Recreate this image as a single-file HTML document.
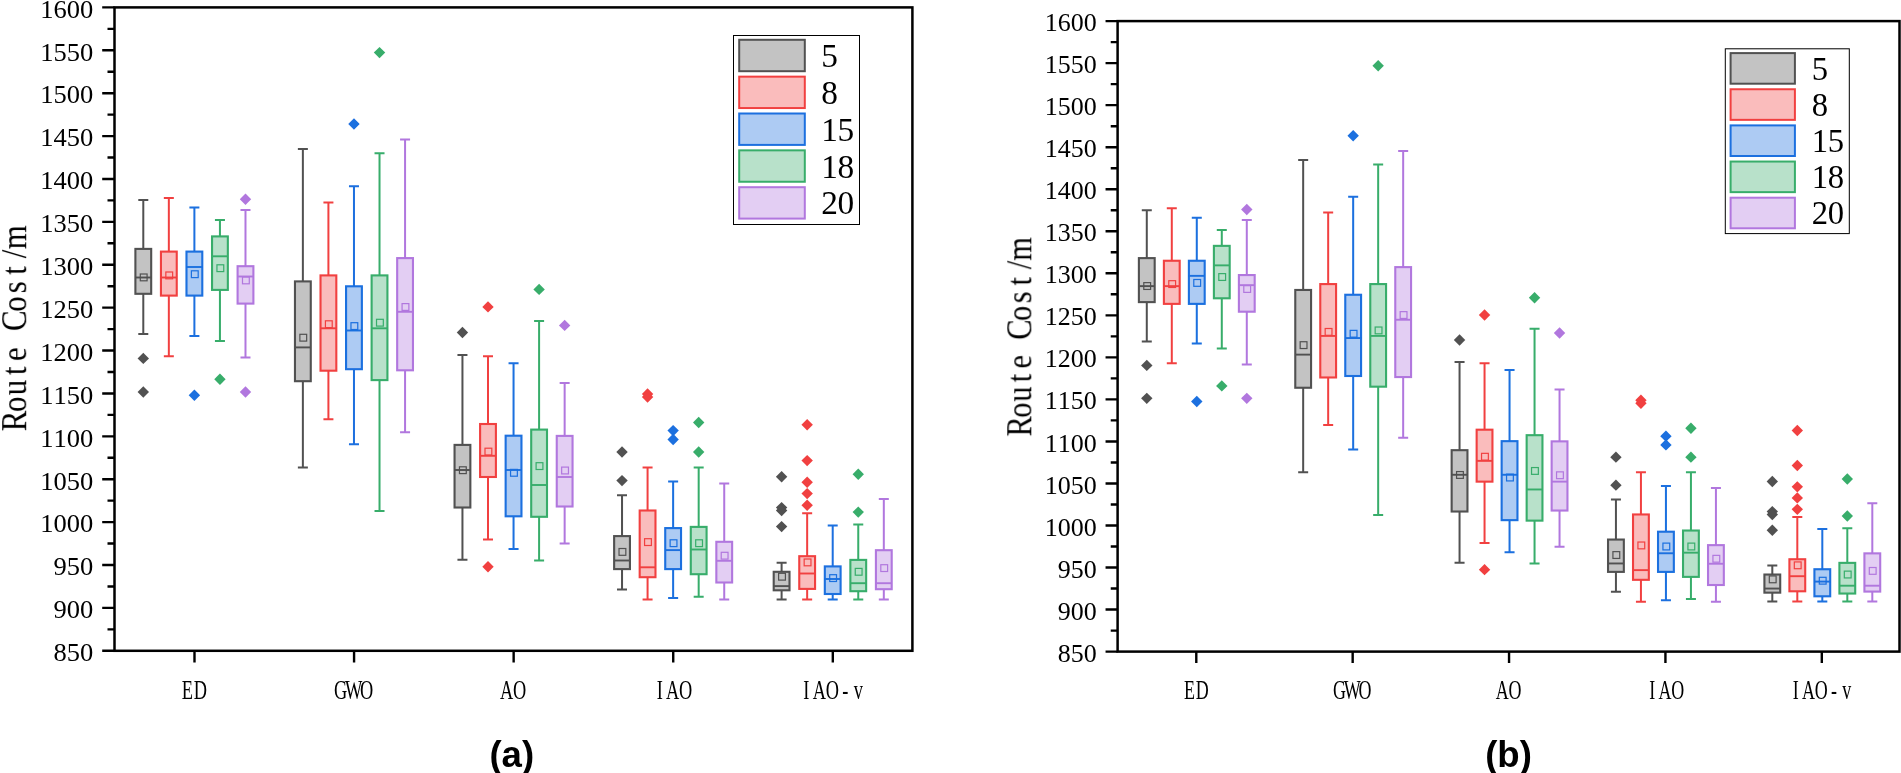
<!DOCTYPE html>
<html lang="en">
<head>
<meta charset="utf-8">
<title>Route Cost box plots</title>
<style>
html,body{margin:0;padding:0;background:#fff;}
body{width:1901px;height:773px;overflow:hidden;}
svg{display:block;}
</style>
</head>
<body>
<svg width="1901" height="773" viewBox="0 0 1901 773">
<defs><filter id="soft" x="0" y="0" width="1901" height="773" filterUnits="userSpaceOnUse"><feGaussianBlur stdDeviation="0.4"/></filter></defs>
<rect width="1901" height="773" fill="#fff"/>
<g filter="url(#soft)">
<g id="chart-a">
<g stroke="#515151" fill="none">
<path d="M143.29 200.1V248.9M143.29 293.8V334M138.29 200.1H148.29M138.29 334H148.29" stroke-width="2"/>
<rect x="135.39" y="248.9" width="15.8" height="44.9" fill="#c3c3c3" stroke-width="2.1"/>
<path d="M135.39 277.5H151.19" stroke-width="1.9"/>
<rect x="140.29" y="274" width="6.8" height="6.8" stroke-width="1.2"/>
<path d="M143.29 352.7L148.99 358.4L143.29 364.1L137.59 358.4Z" fill="#515151" stroke="none"/>
<path d="M143.29 386.3L148.99 392L143.29 397.7L137.59 392Z" fill="#515151" stroke="none"/>
</g>
<g stroke="#f14040" fill="none">
<path d="M168.84 198V251.6M168.84 295.6V356.2M163.84 198H173.84M163.84 356.2H173.84" stroke-width="2"/>
<rect x="160.94" y="251.6" width="15.8" height="44" fill="#fabcbc" stroke-width="2.1"/>
<path d="M160.94 277.5H176.74" stroke-width="1.9"/>
<rect x="165.84" y="272" width="6.8" height="6.8" stroke-width="1.2"/>
</g>
<g stroke="#1a6fdf" fill="none">
<path d="M194.39 207.6V251.6M194.39 295.6V336M189.39 207.6H199.39M189.39 336H199.39" stroke-width="2"/>
<rect x="186.49" y="251.6" width="15.8" height="44" fill="#adcbf3" stroke-width="2.1"/>
<path d="M186.49 267H202.29" stroke-width="1.9"/>
<rect x="191.39" y="270.8" width="6.8" height="6.8" stroke-width="1.2"/>
<path d="M194.39 389.6L200.09 395.3L194.39 401L188.69 395.3Z" fill="#1a6fdf" stroke="none"/>
</g>
<g stroke="#37ad6b" fill="none">
<path d="M219.94 220.1V236.4M219.94 289.9V341.1M214.94 220.1H224.94M214.94 341.1H224.94" stroke-width="2"/>
<rect x="212.04" y="236.4" width="15.8" height="53.5" fill="#b8e1ca" stroke-width="2.1"/>
<path d="M212.04 256.3H227.84" stroke-width="1.9"/>
<rect x="216.94" y="264.8" width="6.8" height="6.8" stroke-width="1.2"/>
<path d="M219.94 373.6L225.64 379.3L219.94 385L214.24 379.3Z" fill="#37ad6b" stroke="none"/>
</g>
<g stroke="#b177de" fill="none">
<path d="M245.49 209.9V266.2M245.49 303.6V357.4M240.49 209.9H250.49M240.49 357.4H250.49" stroke-width="2"/>
<rect x="237.59" y="266.2" width="15.8" height="37.4" fill="#e3cef3" stroke-width="2.1"/>
<path d="M237.59 276.5H253.39" stroke-width="1.9"/>
<rect x="242.49" y="277" width="6.8" height="6.8" stroke-width="1.2"/>
<path d="M245.49 193.6L251.19 199.3L245.49 205L239.79 199.3Z" fill="#b177de" stroke="none"/>
<path d="M245.49 386.3L251.19 392L245.49 397.7L239.79 392Z" fill="#b177de" stroke="none"/>
</g>
<g stroke="#515151" fill="none">
<path d="M302.87 148.9V281.4M302.87 381.2V467.5M297.87 148.9H307.87M297.87 467.5H307.87" stroke-width="2"/>
<rect x="294.97" y="281.4" width="15.8" height="99.8" fill="#c3c3c3" stroke-width="2.1"/>
<path d="M294.97 347.4H310.77" stroke-width="1.9"/>
<rect x="299.87" y="334.3" width="6.8" height="6.8" stroke-width="1.2"/>
</g>
<g stroke="#f14040" fill="none">
<path d="M328.42 202.4V275.4M328.42 370.7V419.2M323.42 202.4H333.42M323.42 419.2H333.42" stroke-width="2"/>
<rect x="320.52" y="275.4" width="15.8" height="95.3" fill="#fabcbc" stroke-width="2.1"/>
<path d="M320.52 328.3H336.32" stroke-width="1.9"/>
<rect x="325.42" y="320.8" width="6.8" height="6.8" stroke-width="1.2"/>
</g>
<g stroke="#1a6fdf" fill="none">
<path d="M353.97 186.3V286.3M353.97 369.2V444.3M348.97 186.3H358.97M348.97 444.3H358.97" stroke-width="2"/>
<rect x="346.07" y="286.3" width="15.8" height="82.9" fill="#adcbf3" stroke-width="2.1"/>
<path d="M346.07 330.5H361.87" stroke-width="1.9"/>
<rect x="350.97" y="322.7" width="6.8" height="6.8" stroke-width="1.2"/>
<path d="M353.97 118.3L359.67 124L353.97 129.7L348.27 124Z" fill="#1a6fdf" stroke="none"/>
</g>
<g stroke="#37ad6b" fill="none">
<path d="M379.52 153.3V275.4M379.52 380.1V511.1M374.52 153.3H384.52M374.52 511.1H384.52" stroke-width="2"/>
<rect x="371.62" y="275.4" width="15.8" height="104.7" fill="#b8e1ca" stroke-width="2.1"/>
<path d="M371.62 328.3H387.42" stroke-width="1.9"/>
<rect x="376.52" y="319.3" width="6.8" height="6.8" stroke-width="1.2"/>
<path d="M379.52 46.9L385.22 52.6L379.52 58.3L373.82 52.6Z" fill="#37ad6b" stroke="none"/>
</g>
<g stroke="#b177de" fill="none">
<path d="M405.07 139.6V258.1M405.07 370.3V432.3M400.07 139.6H410.07M400.07 432.3H410.07" stroke-width="2"/>
<rect x="397.17" y="258.1" width="15.8" height="112.2" fill="#e3cef3" stroke-width="2.1"/>
<path d="M397.17 311.8H412.97" stroke-width="1.9"/>
<rect x="402.07" y="303.6" width="6.8" height="6.8" stroke-width="1.2"/>
</g>
<g stroke="#515151" fill="none">
<path d="M462.45 354.9V444.9M462.45 507.5V559.7M457.45 354.9H467.45M457.45 559.7H467.45" stroke-width="2"/>
<rect x="454.55" y="444.9" width="15.8" height="62.6" fill="#c3c3c3" stroke-width="2.1"/>
<path d="M454.55 470H470.35" stroke-width="1.9"/>
<rect x="459.45" y="466.8" width="6.8" height="6.8" stroke-width="1.2"/>
<path d="M462.45 326.8L468.15 332.5L462.45 338.2L456.75 332.5Z" fill="#515151" stroke="none"/>
</g>
<g stroke="#f14040" fill="none">
<path d="M488 356.2V424M488 477V539.6M483 356.2H493M483 539.6H493" stroke-width="2"/>
<rect x="480.1" y="424" width="15.8" height="53" fill="#fabcbc" stroke-width="2.1"/>
<path d="M480.1 455.8H495.9" stroke-width="1.9"/>
<rect x="485" y="448.2" width="6.8" height="6.8" stroke-width="1.2"/>
<path d="M488 301.2L493.7 306.9L488 312.6L482.3 306.9Z" fill="#f14040" stroke="none"/>
<path d="M488 561.1L493.7 566.8L488 572.5L482.3 566.8Z" fill="#f14040" stroke="none"/>
</g>
<g stroke="#1a6fdf" fill="none">
<path d="M513.55 363.2V435.7M513.55 516.3V549.1M508.55 363.2H518.55M508.55 549.1H518.55" stroke-width="2"/>
<rect x="505.65" y="435.7" width="15.8" height="80.6" fill="#adcbf3" stroke-width="2.1"/>
<path d="M505.65 470H521.45" stroke-width="1.9"/>
<rect x="510.55" y="469.4" width="6.8" height="6.8" stroke-width="1.2"/>
</g>
<g stroke="#37ad6b" fill="none">
<path d="M539.1 321V429.6M539.1 516.8V560.5M534.1 321H544.1M534.1 560.5H544.1" stroke-width="2"/>
<rect x="531.2" y="429.6" width="15.8" height="87.2" fill="#b8e1ca" stroke-width="2.1"/>
<path d="M531.2 485H547" stroke-width="1.9"/>
<rect x="536.1" y="462.7" width="6.8" height="6.8" stroke-width="1.2"/>
<path d="M539.1 283.7L544.8 289.4L539.1 295.1L533.4 289.4Z" fill="#37ad6b" stroke="none"/>
</g>
<g stroke="#b177de" fill="none">
<path d="M564.65 383V435.9M564.65 506.5V543.4M559.65 383H569.65M559.65 543.4H569.65" stroke-width="2"/>
<rect x="556.75" y="435.9" width="15.8" height="70.6" fill="#e3cef3" stroke-width="2.1"/>
<path d="M556.75 477H572.55" stroke-width="1.9"/>
<rect x="561.65" y="467.1" width="6.8" height="6.8" stroke-width="1.2"/>
<path d="M564.65 319.7L570.35 325.4L564.65 331.1L558.95 325.4Z" fill="#b177de" stroke="none"/>
</g>
<g stroke="#515151" fill="none">
<path d="M622.03 495.3V536.1M622.03 569.1V589.4M617.03 495.3H627.03M617.03 589.4H627.03" stroke-width="2"/>
<rect x="614.13" y="536.1" width="15.8" height="33" fill="#c3c3c3" stroke-width="2.1"/>
<path d="M614.13 560.5H629.93" stroke-width="1.9"/>
<rect x="619.03" y="548.5" width="6.8" height="6.8" stroke-width="1.2"/>
<path d="M622.03 446.3L627.73 452L622.03 457.7L616.33 452Z" fill="#515151" stroke="none"/>
<path d="M622.03 474.9L627.73 480.6L622.03 486.3L616.33 480.6Z" fill="#515151" stroke="none"/>
</g>
<g stroke="#f14040" fill="none">
<path d="M647.58 467.4V510.5M647.58 577.2V599.5M642.58 467.4H652.58M642.58 599.5H652.58" stroke-width="2"/>
<rect x="639.68" y="510.5" width="15.8" height="66.7" fill="#fabcbc" stroke-width="2.1"/>
<path d="M639.68 567.3H655.48" stroke-width="1.9"/>
<rect x="644.58" y="538.7" width="6.8" height="6.8" stroke-width="1.2"/>
<path d="M647.58 388.3L653.28 394L647.58 399.7L641.88 394Z" fill="#f14040" stroke="none"/>
<path d="M647.58 391.3L653.28 397L647.58 402.7L641.88 397Z" fill="#f14040" stroke="none"/>
</g>
<g stroke="#1a6fdf" fill="none">
<path d="M673.13 481.4V528.1M673.13 569.1V598M668.13 481.4H678.13M668.13 598H678.13" stroke-width="2"/>
<rect x="665.23" y="528.1" width="15.8" height="41" fill="#adcbf3" stroke-width="2.1"/>
<path d="M665.23 550.1H681.03" stroke-width="1.9"/>
<rect x="670.13" y="539.8" width="6.8" height="6.8" stroke-width="1.2"/>
<path d="M673.13 424.9L678.83 430.6L673.13 436.3L667.43 430.6Z" fill="#1a6fdf" stroke="none"/>
<path d="M673.13 433.8L678.83 439.5L673.13 445.2L667.43 439.5Z" fill="#1a6fdf" stroke="none"/>
</g>
<g stroke="#37ad6b" fill="none">
<path d="M698.68 467.4V526.9M698.68 574.2V596.8M693.68 467.4H703.68M693.68 596.8H703.68" stroke-width="2"/>
<rect x="690.78" y="526.9" width="15.8" height="47.3" fill="#b8e1ca" stroke-width="2.1"/>
<path d="M690.78 549.5H706.58" stroke-width="1.9"/>
<rect x="695.68" y="539.8" width="6.8" height="6.8" stroke-width="1.2"/>
<path d="M698.68 416.8L704.38 422.5L698.68 428.2L692.98 422.5Z" fill="#37ad6b" stroke="none"/>
<path d="M698.68 446.3L704.38 452L698.68 457.7L692.98 452Z" fill="#37ad6b" stroke="none"/>
</g>
<g stroke="#b177de" fill="none">
<path d="M724.23 483.4V541.8M724.23 582.5V599.5M719.23 483.4H729.23M719.23 599.5H729.23" stroke-width="2"/>
<rect x="716.33" y="541.8" width="15.8" height="40.7" fill="#e3cef3" stroke-width="2.1"/>
<path d="M716.33 560.8H732.13" stroke-width="1.9"/>
<rect x="721.23" y="552.3" width="6.8" height="6.8" stroke-width="1.2"/>
</g>
<g stroke="#515151" fill="none">
<path d="M781.61 562.7V571.8M781.61 590.3V599.4M776.61 562.7H786.61M776.61 599.4H786.61" stroke-width="2"/>
<rect x="773.71" y="571.8" width="15.8" height="18.5" fill="#c3c3c3" stroke-width="2.1"/>
<path d="M773.71 586.1H789.51" stroke-width="1.9"/>
<rect x="778.61" y="573.3" width="6.8" height="6.8" stroke-width="1.2"/>
<path d="M781.61 471.1L787.31 476.8L781.61 482.5L775.91 476.8Z" fill="#515151" stroke="none"/>
<path d="M781.61 501.9L787.31 507.6L781.61 513.3L775.91 507.6Z" fill="#515151" stroke="none"/>
<path d="M781.61 504.8L787.31 510.5L781.61 516.2L775.91 510.5Z" fill="#515151" stroke="none"/>
<path d="M781.61 520.9L787.31 526.6L781.61 532.3L775.91 526.6Z" fill="#515151" stroke="none"/>
</g>
<g stroke="#f14040" fill="none">
<path d="M807.16 513.2V556.2M807.16 588.9V599.4M802.16 513.2H812.16M802.16 599.4H812.16" stroke-width="2"/>
<rect x="799.26" y="556.2" width="15.8" height="32.7" fill="#fabcbc" stroke-width="2.1"/>
<path d="M799.26 573.5H815.06" stroke-width="1.9"/>
<rect x="804.16" y="559" width="6.8" height="6.8" stroke-width="1.2"/>
<path d="M807.16 419.1L812.86 424.8L807.16 430.5L801.46 424.8Z" fill="#f14040" stroke="none"/>
<path d="M807.16 454.9L812.86 460.6L807.16 466.3L801.46 460.6Z" fill="#f14040" stroke="none"/>
<path d="M807.16 476.6L812.86 482.3L807.16 488L801.46 482.3Z" fill="#f14040" stroke="none"/>
<path d="M807.16 487.9L812.86 493.6L807.16 499.3L801.46 493.6Z" fill="#f14040" stroke="none"/>
<path d="M807.16 499.6L812.86 505.3L807.16 511L801.46 505.3Z" fill="#f14040" stroke="none"/>
</g>
<g stroke="#1a6fdf" fill="none">
<path d="M832.71 525.4V566.4M832.71 594V599.4M827.71 525.4H837.71M827.71 599.4H837.71" stroke-width="2"/>
<rect x="824.81" y="566.4" width="15.8" height="27.6" fill="#adcbf3" stroke-width="2.1"/>
<path d="M824.81 579H840.61" stroke-width="1.9"/>
<rect x="829.71" y="574.7" width="6.8" height="6.8" stroke-width="1.2"/>
</g>
<g stroke="#37ad6b" fill="none">
<path d="M858.26 524.6V559.9M858.26 591.2V599.4M853.26 524.6H863.26M853.26 599.4H863.26" stroke-width="2"/>
<rect x="850.36" y="559.9" width="15.8" height="31.3" fill="#b8e1ca" stroke-width="2.1"/>
<path d="M850.36 583.2H866.16" stroke-width="1.9"/>
<rect x="855.26" y="568.4" width="6.8" height="6.8" stroke-width="1.2"/>
<path d="M858.26 468.6L863.96 474.3L858.26 480L852.56 474.3Z" fill="#37ad6b" stroke="none"/>
<path d="M858.26 506.4L863.96 512.1L858.26 517.8L852.56 512.1Z" fill="#37ad6b" stroke="none"/>
</g>
<g stroke="#b177de" fill="none">
<path d="M883.81 499V550.2M883.81 589.2V599.4M878.81 499H888.81M878.81 599.4H888.81" stroke-width="2"/>
<rect x="875.91" y="550.2" width="15.8" height="39" fill="#e3cef3" stroke-width="2.1"/>
<path d="M875.91 583.2H891.71" stroke-width="1.9"/>
<rect x="880.81" y="564.7" width="6.8" height="6.8" stroke-width="1.2"/>
</g>
<rect x="114.5" y="7.4" width="797.9" height="643.4" fill="none" stroke="#000" stroke-width="2.5"/>
<path d="M102.2 7.4H114.5M107.5 28.85H114.5M102.2 50.29H114.5M107.5 71.74H114.5M102.2 93.19H114.5M107.5 114.63H114.5M102.2 136.08H114.5M107.5 157.53H114.5M102.2 178.97H114.5M107.5 200.42H114.5M102.2 221.87H114.5M107.5 243.31H114.5M102.2 264.76H114.5M107.5 286.21H114.5M102.2 307.65H114.5M107.5 329.1H114.5M102.2 350.55H114.5M107.5 371.99H114.5M102.2 393.44H114.5M107.5 414.89H114.5M102.2 436.33H114.5M107.5 457.78H114.5M102.2 479.23H114.5M107.5 500.67H114.5M102.2 522.12H114.5M107.5 543.57H114.5M102.2 565.01H114.5M107.5 586.46H114.5M102.2 607.91H114.5M107.5 629.35H114.5M102.2 650.8H114.5M194.49 650.8V662.4M354.07 650.8V662.4M513.65 650.8V662.4M673.23 650.8V662.4M832.81 650.8V662.4" stroke="#000" stroke-width="2.4" fill="none"/>
<text transform="translate(40.2,17.7) scale(1.04,1)" x="6.37 19.11 31.85 44.59" y="0" text-anchor="middle" font-family="'Liberation Serif', serif" font-size="25.5" fill="#000">1600</text>
<text transform="translate(40.2,60.59) scale(1.04,1)" x="6.37 19.11 31.85 44.59" y="0" text-anchor="middle" font-family="'Liberation Serif', serif" font-size="25.5" fill="#000">1550</text>
<text transform="translate(40.2,103.49) scale(1.04,1)" x="6.37 19.11 31.85 44.59" y="0" text-anchor="middle" font-family="'Liberation Serif', serif" font-size="25.5" fill="#000">1500</text>
<text transform="translate(40.2,146.38) scale(1.04,1)" x="6.37 19.11 31.85 44.59" y="0" text-anchor="middle" font-family="'Liberation Serif', serif" font-size="25.5" fill="#000">1450</text>
<text transform="translate(40.2,189.27) scale(1.04,1)" x="6.37 19.11 31.85 44.59" y="0" text-anchor="middle" font-family="'Liberation Serif', serif" font-size="25.5" fill="#000">1400</text>
<text transform="translate(40.2,232.17) scale(1.04,1)" x="6.37 19.11 31.85 44.59" y="0" text-anchor="middle" font-family="'Liberation Serif', serif" font-size="25.5" fill="#000">1350</text>
<text transform="translate(40.2,275.06) scale(1.04,1)" x="6.37 19.11 31.85 44.59" y="0" text-anchor="middle" font-family="'Liberation Serif', serif" font-size="25.5" fill="#000">1300</text>
<text transform="translate(40.2,317.95) scale(1.04,1)" x="6.37 19.11 31.85 44.59" y="0" text-anchor="middle" font-family="'Liberation Serif', serif" font-size="25.5" fill="#000">1250</text>
<text transform="translate(40.2,360.85) scale(1.04,1)" x="6.37 19.11 31.85 44.59" y="0" text-anchor="middle" font-family="'Liberation Serif', serif" font-size="25.5" fill="#000">1200</text>
<text transform="translate(40.2,403.74) scale(1.04,1)" x="6.37 19.11 31.85 44.59" y="0" text-anchor="middle" font-family="'Liberation Serif', serif" font-size="25.5" fill="#000">1150</text>
<text transform="translate(40.2,446.63) scale(1.04,1)" x="6.37 19.11 31.85 44.59" y="0" text-anchor="middle" font-family="'Liberation Serif', serif" font-size="25.5" fill="#000">1100</text>
<text transform="translate(40.2,489.53) scale(1.04,1)" x="6.37 19.11 31.85 44.59" y="0" text-anchor="middle" font-family="'Liberation Serif', serif" font-size="25.5" fill="#000">1050</text>
<text transform="translate(40.2,532.42) scale(1.04,1)" x="6.37 19.11 31.85 44.59" y="0" text-anchor="middle" font-family="'Liberation Serif', serif" font-size="25.5" fill="#000">1000</text>
<text transform="translate(53.45,575.31) scale(1.04,1)" x="6.37 19.11 31.85" y="0" text-anchor="middle" font-family="'Liberation Serif', serif" font-size="25.5" fill="#000">950</text>
<text transform="translate(53.45,618.21) scale(1.04,1)" x="6.37 19.11 31.85" y="0" text-anchor="middle" font-family="'Liberation Serif', serif" font-size="25.5" fill="#000">900</text>
<text transform="translate(53.45,661.1) scale(1.04,1)" x="6.37 19.11 31.85" y="0" text-anchor="middle" font-family="'Liberation Serif', serif" font-size="25.5" fill="#000">850</text>
<text transform="translate(180.99,699.3) scale(0.68,1)" x="9.56 28.68" y="0" text-anchor="middle" font-family="'Liberation Serif', serif" font-size="27" fill="#000">ED</text>
<text transform="translate(334.07,699.3) scale(0.68,1)" x="9.56 28.68 47.79" y="0" text-anchor="middle" font-family="'Liberation Serif', serif" font-size="27" fill="#000">GWO</text>
<text transform="translate(500.15,699.3) scale(0.68,1)" x="9.56 28.68" y="0" text-anchor="middle" font-family="'Liberation Serif', serif" font-size="27" fill="#000">AO</text>
<text transform="translate(653.23,699.3) scale(0.68,1)" x="9.56 28.68 47.79" y="0" text-anchor="middle" font-family="'Liberation Serif', serif" font-size="27" fill="#000">IAO</text>
<text transform="translate(799.81,699.3) scale(0.68,1)" x="9.56 28.68 47.79 66.91 86.03" y="0" text-anchor="middle" font-family="'Liberation Serif', serif" font-size="27" fill="#000">IAO-v</text>
<text transform="translate(26.2,428.6) rotate(-90) scale(0.86,1)" x="8.95 28.37 47.79 67.21 86.63 106.05 125.47 144.88 164.3 183.72 203.14 222.56" y="0" text-anchor="middle" font-family="'Liberation Serif', serif" font-size="36" fill="#000">Route Cost/m</text>
<rect x="733.5" y="35.5" width="126" height="189" fill="#fff" stroke="#000" stroke-width="1"/>
<rect x="739.2" y="39.8" width="65.6" height="31.4" fill="#c3c3c3" stroke="#515151" stroke-width="2"/>
<text transform="translate(821.3,67) scale(0.98,1)" x="8.32" y="0" text-anchor="middle" font-family="'Liberation Serif', serif" font-size="34" fill="#000">5</text>
<rect x="739.2" y="76.65" width="65.6" height="31.4" fill="#fabcbc" stroke="#f14040" stroke-width="2"/>
<text transform="translate(821.3,103.85) scale(0.98,1)" x="8.32" y="0" text-anchor="middle" font-family="'Liberation Serif', serif" font-size="34" fill="#000">8</text>
<rect x="739.2" y="113.5" width="65.6" height="31.4" fill="#adcbf3" stroke="#1a6fdf" stroke-width="2"/>
<text transform="translate(821.3,140.7) scale(0.98,1)" x="8.32 24.95" y="0" text-anchor="middle" font-family="'Liberation Serif', serif" font-size="34" fill="#000">15</text>
<rect x="739.2" y="150.35" width="65.6" height="31.4" fill="#b8e1ca" stroke="#37ad6b" stroke-width="2"/>
<text transform="translate(821.3,177.55) scale(0.98,1)" x="8.32 24.95" y="0" text-anchor="middle" font-family="'Liberation Serif', serif" font-size="34" fill="#000">18</text>
<rect x="739.2" y="187.2" width="65.6" height="31.4" fill="#e3cef3" stroke="#b177de" stroke-width="2"/>
<text transform="translate(821.3,214.4) scale(0.98,1)" x="8.32 24.95" y="0" text-anchor="middle" font-family="'Liberation Serif', serif" font-size="34" fill="#000">20</text>
</g>
<g id="chart-b">
<g stroke="#515151" fill="none">
<path d="M1146.79 210.29V258.11M1146.79 302.11V341.5M1141.79 210.29H1151.79M1141.79 341.5H1151.79" stroke-width="2"/>
<rect x="1138.89" y="258.11" width="15.8" height="44" fill="#c3c3c3" stroke-width="2.1"/>
<path d="M1138.89 286.13H1154.69" stroke-width="1.9"/>
<rect x="1143.79" y="282.64" width="6.8" height="6.8" stroke-width="1.2"/>
<path d="M1146.79 359.71L1152.49 365.41L1146.79 371.11L1141.09 365.41Z" fill="#515151" stroke="none"/>
<path d="M1146.79 392.64L1152.49 398.34L1146.79 404.04L1141.09 398.34Z" fill="#515151" stroke="none"/>
</g>
<g stroke="#f14040" fill="none">
<path d="M1171.79 208.23V260.75M1171.79 303.87V363.26M1166.79 208.23H1176.79M1166.79 363.26H1176.79" stroke-width="2"/>
<rect x="1163.89" y="260.75" width="15.8" height="43.12" fill="#fabcbc" stroke-width="2.1"/>
<path d="M1163.89 286.13H1179.69" stroke-width="1.9"/>
<rect x="1168.79" y="280.68" width="6.8" height="6.8" stroke-width="1.2"/>
</g>
<g stroke="#1a6fdf" fill="none">
<path d="M1196.79 217.64V260.75M1196.79 303.87V343.46M1191.79 217.64H1201.79M1191.79 343.46H1201.79" stroke-width="2"/>
<rect x="1188.89" y="260.75" width="15.8" height="43.12" fill="#adcbf3" stroke-width="2.1"/>
<path d="M1188.89 275.85H1204.69" stroke-width="1.9"/>
<rect x="1193.79" y="279.5" width="6.8" height="6.8" stroke-width="1.2"/>
<path d="M1196.79 395.87L1202.49 401.57L1196.79 407.27L1191.09 401.57Z" fill="#1a6fdf" stroke="none"/>
</g>
<g stroke="#37ad6b" fill="none">
<path d="M1221.79 229.89V245.86M1221.79 298.29V348.46M1216.79 229.89H1226.79M1216.79 348.46H1226.79" stroke-width="2"/>
<rect x="1213.89" y="245.86" width="15.8" height="52.43" fill="#b8e1ca" stroke-width="2.1"/>
<path d="M1213.89 265.36H1229.69" stroke-width="1.9"/>
<rect x="1218.79" y="273.62" width="6.8" height="6.8" stroke-width="1.2"/>
<path d="M1221.79 380.19L1227.49 385.89L1221.79 391.59L1216.09 385.89Z" fill="#37ad6b" stroke="none"/>
</g>
<g stroke="#b177de" fill="none">
<path d="M1246.79 219.89V275.06M1246.79 311.71V364.43M1241.79 219.89H1251.79M1241.79 364.43H1251.79" stroke-width="2"/>
<rect x="1238.89" y="275.06" width="15.8" height="36.65" fill="#e3cef3" stroke-width="2.1"/>
<path d="M1238.89 285.15H1254.69" stroke-width="1.9"/>
<rect x="1243.79" y="285.58" width="6.8" height="6.8" stroke-width="1.2"/>
<path d="M1246.79 203.8L1252.49 209.5L1246.79 215.2L1241.09 209.5Z" fill="#b177de" stroke="none"/>
<path d="M1246.79 392.64L1252.49 398.34L1246.79 404.04L1241.09 398.34Z" fill="#b177de" stroke="none"/>
</g>
<g stroke="#515151" fill="none">
<path d="M1303.17 160.11V289.96M1303.17 387.76V472.33M1298.17 160.11H1308.17M1298.17 472.33H1308.17" stroke-width="2"/>
<rect x="1295.27" y="289.96" width="15.8" height="97.8" fill="#c3c3c3" stroke-width="2.1"/>
<path d="M1295.27 354.63H1311.07" stroke-width="1.9"/>
<rect x="1300.17" y="341.73" width="6.8" height="6.8" stroke-width="1.2"/>
</g>
<g stroke="#f14040" fill="none">
<path d="M1328.17 212.54V284.08M1328.17 377.47V424.99M1323.17 212.54H1333.17M1323.17 424.99H1333.17" stroke-width="2"/>
<rect x="1320.27" y="284.08" width="15.8" height="93.39" fill="#fabcbc" stroke-width="2.1"/>
<path d="M1320.27 335.92H1336.07" stroke-width="1.9"/>
<rect x="1325.17" y="328.5" width="6.8" height="6.8" stroke-width="1.2"/>
</g>
<g stroke="#1a6fdf" fill="none">
<path d="M1353.17 196.76V294.76M1353.17 376V449.59M1348.17 196.76H1358.17M1348.17 449.59H1358.17" stroke-width="2"/>
<rect x="1345.27" y="294.76" width="15.8" height="81.24" fill="#adcbf3" stroke-width="2.1"/>
<path d="M1345.27 338.07H1361.07" stroke-width="1.9"/>
<rect x="1350.17" y="330.36" width="6.8" height="6.8" stroke-width="1.2"/>
<path d="M1353.17 130.01L1358.87 135.71L1353.17 141.41L1347.47 135.71Z" fill="#1a6fdf" stroke="none"/>
</g>
<g stroke="#37ad6b" fill="none">
<path d="M1378.17 164.42V284.08M1378.17 386.68V515.05M1373.17 164.42H1383.17M1373.17 515.05H1383.17" stroke-width="2"/>
<rect x="1370.27" y="284.08" width="15.8" height="102.6" fill="#b8e1ca" stroke-width="2.1"/>
<path d="M1370.27 335.92H1386.07" stroke-width="1.9"/>
<rect x="1375.17" y="327.03" width="6.8" height="6.8" stroke-width="1.2"/>
<path d="M1378.17 60.04L1383.87 65.74L1378.17 71.44L1372.47 65.74Z" fill="#37ad6b" stroke="none"/>
</g>
<g stroke="#b177de" fill="none">
<path d="M1403.17 151V267.12M1403.17 377.07V437.83M1398.17 151H1408.17M1398.17 437.83H1408.17" stroke-width="2"/>
<rect x="1395.27" y="267.12" width="15.8" height="109.95" fill="#e3cef3" stroke-width="2.1"/>
<path d="M1395.27 319.75H1411.07" stroke-width="1.9"/>
<rect x="1400.17" y="311.64" width="6.8" height="6.8" stroke-width="1.2"/>
</g>
<g stroke="#515151" fill="none">
<path d="M1459.55 361.98V450.18M1459.55 511.52V562.68M1454.55 361.98H1464.55M1454.55 562.68H1464.55" stroke-width="2"/>
<rect x="1451.65" y="450.18" width="15.8" height="61.34" fill="#c3c3c3" stroke-width="2.1"/>
<path d="M1451.65 474.77H1467.45" stroke-width="1.9"/>
<rect x="1456.55" y="471.57" width="6.8" height="6.8" stroke-width="1.2"/>
<path d="M1459.55 334.33L1465.25 340.03L1459.55 345.73L1453.85 340.03Z" fill="#515151" stroke="none"/>
</g>
<g stroke="#f14040" fill="none">
<path d="M1484.55 363.26V429.7M1484.55 481.63V542.98M1479.55 363.26H1489.55M1479.55 542.98H1489.55" stroke-width="2"/>
<rect x="1476.65" y="429.7" width="15.8" height="51.94" fill="#fabcbc" stroke-width="2.1"/>
<path d="M1476.65 460.86H1492.45" stroke-width="1.9"/>
<rect x="1481.55" y="453.34" width="6.8" height="6.8" stroke-width="1.2"/>
<path d="M1484.55 309.25L1490.25 314.95L1484.55 320.65L1478.85 314.95Z" fill="#f14040" stroke="none"/>
<path d="M1484.55 563.93L1490.25 569.63L1484.55 575.33L1478.85 569.63Z" fill="#f14040" stroke="none"/>
</g>
<g stroke="#1a6fdf" fill="none">
<path d="M1509.55 370.12V441.16M1509.55 520.15V552.29M1504.55 370.12H1514.55M1504.55 552.29H1514.55" stroke-width="2"/>
<rect x="1501.65" y="441.16" width="15.8" height="78.98" fill="#adcbf3" stroke-width="2.1"/>
<path d="M1501.65 474.77H1517.45" stroke-width="1.9"/>
<rect x="1506.55" y="474.12" width="6.8" height="6.8" stroke-width="1.2"/>
</g>
<g stroke="#37ad6b" fill="none">
<path d="M1534.55 328.76V435.19M1534.55 520.64V563.46M1529.55 328.76H1539.55M1529.55 563.46H1539.55" stroke-width="2"/>
<rect x="1526.65" y="435.19" width="15.8" height="85.45" fill="#b8e1ca" stroke-width="2.1"/>
<path d="M1526.65 489.47H1542.45" stroke-width="1.9"/>
<rect x="1531.55" y="467.55" width="6.8" height="6.8" stroke-width="1.2"/>
<path d="M1534.55 292.1L1540.25 297.8L1534.55 303.5L1528.85 297.8Z" fill="#37ad6b" stroke="none"/>
</g>
<g stroke="#b177de" fill="none">
<path d="M1559.55 389.52V441.36M1559.55 510.54V546.7M1554.55 389.52H1564.55M1554.55 546.7H1564.55" stroke-width="2"/>
<rect x="1551.65" y="441.36" width="15.8" height="69.18" fill="#e3cef3" stroke-width="2.1"/>
<path d="M1551.65 481.63H1567.45" stroke-width="1.9"/>
<rect x="1556.55" y="471.86" width="6.8" height="6.8" stroke-width="1.2"/>
<path d="M1559.55 327.37L1565.25 333.07L1559.55 338.77L1553.85 333.07Z" fill="#b177de" stroke="none"/>
</g>
<g stroke="#515151" fill="none">
<path d="M1615.93 499.57V539.55M1615.93 571.89V591.78M1610.93 499.57H1620.93M1610.93 591.78H1620.93" stroke-width="2"/>
<rect x="1608.03" y="539.55" width="15.8" height="32.34" fill="#c3c3c3" stroke-width="2.1"/>
<path d="M1608.03 563.46H1623.83" stroke-width="1.9"/>
<rect x="1612.93" y="551.63" width="6.8" height="6.8" stroke-width="1.2"/>
<path d="M1615.93 451.44L1621.63 457.14L1615.93 462.84L1610.23 457.14Z" fill="#515151" stroke="none"/>
<path d="M1615.93 479.46L1621.63 485.16L1615.93 490.86L1610.23 485.16Z" fill="#515151" stroke="none"/>
</g>
<g stroke="#f14040" fill="none">
<path d="M1640.93 472.23V514.46M1640.93 579.83V601.68M1635.93 472.23H1645.93M1635.93 601.68H1645.93" stroke-width="2"/>
<rect x="1633.03" y="514.46" width="15.8" height="65.36" fill="#fabcbc" stroke-width="2.1"/>
<path d="M1633.03 570.12H1648.83" stroke-width="1.9"/>
<rect x="1637.93" y="542.03" width="6.8" height="6.8" stroke-width="1.2"/>
<path d="M1640.93 394.6L1646.63 400.3L1640.93 406L1635.23 400.3Z" fill="#f14040" stroke="none"/>
<path d="M1640.93 397.54L1646.63 403.24L1640.93 408.94L1635.23 403.24Z" fill="#f14040" stroke="none"/>
</g>
<g stroke="#1a6fdf" fill="none">
<path d="M1665.93 485.95V531.71M1665.93 571.89V600.21M1660.93 485.95H1670.93M1660.93 600.21H1670.93" stroke-width="2"/>
<rect x="1658.03" y="531.71" width="15.8" height="40.18" fill="#adcbf3" stroke-width="2.1"/>
<path d="M1658.03 553.27H1673.83" stroke-width="1.9"/>
<rect x="1662.93" y="543.11" width="6.8" height="6.8" stroke-width="1.2"/>
<path d="M1665.93 430.46L1671.63 436.16L1665.93 441.86L1660.23 436.16Z" fill="#1a6fdf" stroke="none"/>
<path d="M1665.93 439.19L1671.63 444.89L1665.93 450.59L1660.23 444.89Z" fill="#1a6fdf" stroke="none"/>
</g>
<g stroke="#37ad6b" fill="none">
<path d="M1690.93 472.23V530.53M1690.93 576.89V599.03M1685.93 472.23H1695.93M1685.93 599.03H1695.93" stroke-width="2"/>
<rect x="1683.03" y="530.53" width="15.8" height="46.35" fill="#b8e1ca" stroke-width="2.1"/>
<path d="M1683.03 552.68H1698.83" stroke-width="1.9"/>
<rect x="1687.93" y="543.11" width="6.8" height="6.8" stroke-width="1.2"/>
<path d="M1690.93 422.53L1696.63 428.23L1690.93 433.93L1685.23 428.23Z" fill="#37ad6b" stroke="none"/>
<path d="M1690.93 451.44L1696.63 457.14L1690.93 462.84L1685.23 457.14Z" fill="#37ad6b" stroke="none"/>
</g>
<g stroke="#b177de" fill="none">
<path d="M1715.93 487.91V545.14M1715.93 585.02V601.68M1710.93 487.91H1720.93M1710.93 601.68H1720.93" stroke-width="2"/>
<rect x="1708.03" y="545.14" width="15.8" height="39.88" fill="#e3cef3" stroke-width="2.1"/>
<path d="M1708.03 563.75H1723.83" stroke-width="1.9"/>
<rect x="1712.93" y="555.36" width="6.8" height="6.8" stroke-width="1.2"/>
</g>
<g stroke="#515151" fill="none">
<path d="M1772.31 565.62V574.53M1772.31 592.66V601.58M1767.31 565.62H1777.31M1767.31 601.58H1777.31" stroke-width="2"/>
<rect x="1764.41" y="574.53" width="15.8" height="18.13" fill="#c3c3c3" stroke-width="2.1"/>
<path d="M1764.41 588.55H1780.21" stroke-width="1.9"/>
<rect x="1769.31" y="575.94" width="6.8" height="6.8" stroke-width="1.2"/>
<path d="M1772.31 475.74L1778.01 481.44L1772.31 487.14L1766.61 481.44Z" fill="#515151" stroke="none"/>
<path d="M1772.31 505.92L1778.01 511.62L1772.31 517.32L1766.61 511.62Z" fill="#515151" stroke="none"/>
<path d="M1772.31 508.76L1778.01 514.46L1772.31 520.16L1766.61 514.46Z" fill="#515151" stroke="none"/>
<path d="M1772.31 524.54L1778.01 530.24L1772.31 535.94L1766.61 530.24Z" fill="#515151" stroke="none"/>
</g>
<g stroke="#f14040" fill="none">
<path d="M1797.31 517.11V559.25M1797.31 591.29V601.58M1792.31 517.11H1802.31M1792.31 601.58H1802.31" stroke-width="2"/>
<rect x="1789.41" y="559.25" width="15.8" height="32.04" fill="#fabcbc" stroke-width="2.1"/>
<path d="M1789.41 576.2H1805.21" stroke-width="1.9"/>
<rect x="1794.31" y="561.92" width="6.8" height="6.8" stroke-width="1.2"/>
<path d="M1797.31 424.78L1803.01 430.48L1797.31 436.18L1791.61 430.48Z" fill="#f14040" stroke="none"/>
<path d="M1797.31 459.86L1803.01 465.56L1797.31 471.26L1791.61 465.56Z" fill="#f14040" stroke="none"/>
<path d="M1797.31 481.13L1803.01 486.83L1797.31 492.53L1791.61 486.83Z" fill="#f14040" stroke="none"/>
<path d="M1797.31 492.2L1803.01 497.9L1797.31 503.6L1791.61 497.9Z" fill="#f14040" stroke="none"/>
<path d="M1797.31 503.67L1803.01 509.37L1797.31 515.07L1791.61 509.37Z" fill="#f14040" stroke="none"/>
</g>
<g stroke="#1a6fdf" fill="none">
<path d="M1822.31 529.06V569.24M1822.31 596.29V601.58M1817.31 529.06H1827.31M1817.31 601.58H1827.31" stroke-width="2"/>
<rect x="1814.41" y="569.24" width="15.8" height="27.05" fill="#adcbf3" stroke-width="2.1"/>
<path d="M1814.41 581.59H1830.21" stroke-width="1.9"/>
<rect x="1819.31" y="577.31" width="6.8" height="6.8" stroke-width="1.2"/>
</g>
<g stroke="#37ad6b" fill="none">
<path d="M1847.31 528.28V562.87M1847.31 593.54V601.58M1842.31 528.28H1852.31M1842.31 601.58H1852.31" stroke-width="2"/>
<rect x="1839.41" y="562.87" width="15.8" height="30.67" fill="#b8e1ca" stroke-width="2.1"/>
<path d="M1839.41 585.71H1855.21" stroke-width="1.9"/>
<rect x="1844.31" y="571.13" width="6.8" height="6.8" stroke-width="1.2"/>
<path d="M1847.31 473.29L1853.01 478.99L1847.31 484.69L1841.61 478.99Z" fill="#37ad6b" stroke="none"/>
<path d="M1847.31 510.33L1853.01 516.03L1847.31 521.73L1841.61 516.03Z" fill="#37ad6b" stroke="none"/>
</g>
<g stroke="#b177de" fill="none">
<path d="M1872.31 503.19V553.37M1872.31 591.59V601.58M1867.31 503.19H1877.31M1867.31 601.58H1877.31" stroke-width="2"/>
<rect x="1864.41" y="553.37" width="15.8" height="38.22" fill="#e3cef3" stroke-width="2.1"/>
<path d="M1864.41 585.71H1880.21" stroke-width="1.9"/>
<rect x="1869.31" y="567.51" width="6.8" height="6.8" stroke-width="1.2"/>
</g>
<rect x="1117.6" y="21.1" width="781.9" height="630.5" fill="none" stroke="#000" stroke-width="2.5"/>
<path d="M1105.55 21.1H1117.6M1110.74 42.12H1117.6M1105.55 63.13H1117.6M1110.74 84.15H1117.6M1105.55 105.17H1117.6M1110.74 126.18H1117.6M1105.55 147.2H1117.6M1110.74 168.22H1117.6M1105.55 189.23H1117.6M1110.74 210.25H1117.6M1105.55 231.27H1117.6M1110.74 252.28H1117.6M1105.55 273.3H1117.6M1110.74 294.32H1117.6M1105.55 315.33H1117.6M1110.74 336.35H1117.6M1105.55 357.37H1117.6M1110.74 378.38H1117.6M1105.55 399.4H1117.6M1110.74 420.42H1117.6M1105.55 441.43H1117.6M1110.74 462.45H1117.6M1105.55 483.47H1117.6M1110.74 504.48H1117.6M1105.55 525.5H1117.6M1110.74 546.52H1117.6M1105.55 567.53H1117.6M1110.74 588.55H1117.6M1105.55 609.57H1117.6M1110.74 630.58H1117.6M1105.55 651.6H1117.6M1196.29 651.6V662.97M1352.67 651.6V662.97M1509.05 651.6V662.97M1665.43 651.6V662.97M1821.81 651.6V662.97" stroke="#000" stroke-width="2.4" fill="none"/>
<text transform="translate(1044.86,31.19) scale(1.04,1)" x="6.24 18.73 31.21 43.7" y="0" text-anchor="middle" font-family="'Liberation Serif', serif" font-size="24.99" fill="#000">1600</text>
<text transform="translate(1044.86,73.23) scale(1.04,1)" x="6.24 18.73 31.21 43.7" y="0" text-anchor="middle" font-family="'Liberation Serif', serif" font-size="24.99" fill="#000">1550</text>
<text transform="translate(1044.86,115.26) scale(1.04,1)" x="6.24 18.73 31.21 43.7" y="0" text-anchor="middle" font-family="'Liberation Serif', serif" font-size="24.99" fill="#000">1500</text>
<text transform="translate(1044.86,157.29) scale(1.04,1)" x="6.24 18.73 31.21 43.7" y="0" text-anchor="middle" font-family="'Liberation Serif', serif" font-size="24.99" fill="#000">1450</text>
<text transform="translate(1044.86,199.33) scale(1.04,1)" x="6.24 18.73 31.21 43.7" y="0" text-anchor="middle" font-family="'Liberation Serif', serif" font-size="24.99" fill="#000">1400</text>
<text transform="translate(1044.86,241.36) scale(1.04,1)" x="6.24 18.73 31.21 43.7" y="0" text-anchor="middle" font-family="'Liberation Serif', serif" font-size="24.99" fill="#000">1350</text>
<text transform="translate(1044.86,283.39) scale(1.04,1)" x="6.24 18.73 31.21 43.7" y="0" text-anchor="middle" font-family="'Liberation Serif', serif" font-size="24.99" fill="#000">1300</text>
<text transform="translate(1044.86,325.43) scale(1.04,1)" x="6.24 18.73 31.21 43.7" y="0" text-anchor="middle" font-family="'Liberation Serif', serif" font-size="24.99" fill="#000">1250</text>
<text transform="translate(1044.86,367.46) scale(1.04,1)" x="6.24 18.73 31.21 43.7" y="0" text-anchor="middle" font-family="'Liberation Serif', serif" font-size="24.99" fill="#000">1200</text>
<text transform="translate(1044.86,409.49) scale(1.04,1)" x="6.24 18.73 31.21 43.7" y="0" text-anchor="middle" font-family="'Liberation Serif', serif" font-size="24.99" fill="#000">1150</text>
<text transform="translate(1044.86,451.53) scale(1.04,1)" x="6.24 18.73 31.21 43.7" y="0" text-anchor="middle" font-family="'Liberation Serif', serif" font-size="24.99" fill="#000">1100</text>
<text transform="translate(1044.86,493.56) scale(1.04,1)" x="6.24 18.73 31.21 43.7" y="0" text-anchor="middle" font-family="'Liberation Serif', serif" font-size="24.99" fill="#000">1050</text>
<text transform="translate(1044.86,535.59) scale(1.04,1)" x="6.24 18.73 31.21 43.7" y="0" text-anchor="middle" font-family="'Liberation Serif', serif" font-size="24.99" fill="#000">1000</text>
<text transform="translate(1057.85,577.63) scale(1.04,1)" x="6.24 18.73 31.21" y="0" text-anchor="middle" font-family="'Liberation Serif', serif" font-size="24.99" fill="#000">950</text>
<text transform="translate(1057.85,619.66) scale(1.04,1)" x="6.24 18.73 31.21" y="0" text-anchor="middle" font-family="'Liberation Serif', serif" font-size="24.99" fill="#000">900</text>
<text transform="translate(1057.85,661.69) scale(1.04,1)" x="6.24 18.73 31.21" y="0" text-anchor="middle" font-family="'Liberation Serif', serif" font-size="24.99" fill="#000">850</text>
<text transform="translate(1183.05,699.2) scale(0.68,1)" x="9.37 28.1" y="0" text-anchor="middle" font-family="'Liberation Serif', serif" font-size="26.46" fill="#000">ED</text>
<text transform="translate(1333.06,699.2) scale(0.68,1)" x="9.37 28.1 46.84" y="0" text-anchor="middle" font-family="'Liberation Serif', serif" font-size="26.46" fill="#000">GWO</text>
<text transform="translate(1495.81,699.2) scale(0.68,1)" x="9.37 28.1" y="0" text-anchor="middle" font-family="'Liberation Serif', serif" font-size="26.46" fill="#000">AO</text>
<text transform="translate(1645.82,699.2) scale(0.68,1)" x="9.37 28.1 46.84" y="0" text-anchor="middle" font-family="'Liberation Serif', serif" font-size="26.46" fill="#000">IAO</text>
<text transform="translate(1789.46,699.2) scale(0.68,1)" x="9.37 28.1 46.84 65.57 84.31" y="0" text-anchor="middle" font-family="'Liberation Serif', serif" font-size="26.46" fill="#000">IAO-v</text>
<text transform="translate(1031.3,433.8) rotate(-90) scale(0.86,1)" x="8.65 27.41 46.17 64.92 83.68 102.44 121.2 139.96 158.72 177.47 196.23 214.99" y="0" text-anchor="middle" font-family="'Liberation Serif', serif" font-size="35.28" fill="#000">Route Cost/m</text>
<rect x="1725.3" y="48.8" width="124" height="184.8" fill="#fff" stroke="#000" stroke-width="1"/>
<rect x="1730.6" y="53.1" width="64.3" height="30.6" fill="#c3c3c3" stroke="#515151" stroke-width="2"/>
<text transform="translate(1811.9,79.76) scale(0.98,1)" x="8.15" y="0" text-anchor="middle" font-family="'Liberation Serif', serif" font-size="33.32" fill="#000">5</text>
<rect x="1730.6" y="89.25" width="64.3" height="30.6" fill="#fabcbc" stroke="#f14040" stroke-width="2"/>
<text transform="translate(1811.9,115.91) scale(0.98,1)" x="8.15" y="0" text-anchor="middle" font-family="'Liberation Serif', serif" font-size="33.32" fill="#000">8</text>
<rect x="1730.6" y="125.4" width="64.3" height="30.6" fill="#adcbf3" stroke="#1a6fdf" stroke-width="2"/>
<text transform="translate(1811.9,152.06) scale(0.98,1)" x="8.15 24.45" y="0" text-anchor="middle" font-family="'Liberation Serif', serif" font-size="33.32" fill="#000">15</text>
<rect x="1730.6" y="161.55" width="64.3" height="30.6" fill="#b8e1ca" stroke="#37ad6b" stroke-width="2"/>
<text transform="translate(1811.9,188.21) scale(0.98,1)" x="8.15 24.45" y="0" text-anchor="middle" font-family="'Liberation Serif', serif" font-size="33.32" fill="#000">18</text>
<rect x="1730.6" y="197.7" width="64.3" height="30.6" fill="#e3cef3" stroke="#b177de" stroke-width="2"/>
<text transform="translate(1811.9,224.36) scale(0.98,1)" x="8.15 24.45" y="0" text-anchor="middle" font-family="'Liberation Serif', serif" font-size="33.32" fill="#000">20</text>
</g>
<g font-family="'Liberation Sans', sans-serif" font-weight="bold" font-size="36.6" fill="#000" text-anchor="middle">
<text x="511.8" y="766.9">(a)</text>
<text x="1508.5" y="766.6">(b)</text>
</g>
</g>
</svg>
</body>
</html>
